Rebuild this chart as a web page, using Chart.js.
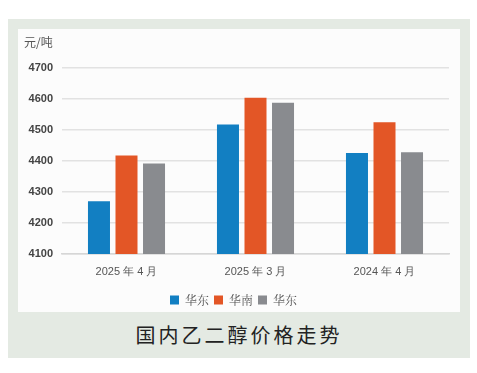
<!DOCTYPE html>
<html><head><meta charset="utf-8">
<script src="https://cdn.jsdelivr.net/npm/chart.js@4.4.0/dist/chart.umd.min.js"></script>
<style>
html,body{margin:0;padding:0;background:#fff;width:477px;height:373px;overflow:hidden;font-family:"Noto Sans CJK SC",sans-serif;}
#outer{position:absolute;left:8px;top:19px;width:462px;height:339px;background:#e4eae3;}
#inner{position:absolute;left:10px;top:10px;width:442px;height:283px;background:#fcfcfc;}
#unit{position:absolute;left:6px;top:4px;font-size:12px;color:#555;}
#title{position:absolute;left:0;width:462px;top:301px;text-align:center;font-size:20px;letter-spacing:3px;color:#222;}
canvas{position:absolute;left:0;top:0;}
</style></head><body>
<div id="outer"><div id="inner"><canvas id="c" width="442" height="287"></canvas><div id="unit">元/吨</div></div>
<div id="title">国内乙二醇价格走势</div></div>
<script>
const categories = ["2025 年 4 月", "2025 年 3 月", "2024 年 4 月"];
const seriesNames = ["华东", "华南", "华东"];
const eastA = [4270, 4518, 4426];
const south = [4418, 4604, 4525];
const eastB = [4392, 4588, 4428];
const yTicks = [4100, 4200, 4300, 4400, 4500, 4600, 4700];
const colors = ["#127fc2", "#e35626", "#898b8f"];

new Chart(document.getElementById('c'), {
  type: 'bar',
  data: {
    labels: categories,
    datasets: [eastA, south, eastB].map((d, i) => ({
      label: seriesNames[i], data: d, backgroundColor: colors[i],
      borderWidth: 0, categoryPercentage: 0.64, barPercentage: 0.8
    }))
  },
  options: {
    responsive: false, animation: false,
    layout: { padding: { left: 0, right: 11, top: 39, bottom: 0 } },
    plugins: {
      tooltip: { enabled: false },
      legend: {
        position: 'bottom',
        labels: { boxWidth: 9, boxHeight: 9, padding: 5, color: '#555',
          font: { size: 12, family: '"Noto Serif CJK SC","Noto Sans CJK SC",serif' } }
      }
    },
    scales: {
      x: {
        grid: { display: false, drawTicks: false },
        border: { color: '#d6d6d6', width: 1.5 },
        ticks: { color: '#555', font: { size: 11 }, padding: 11 },
        afterFit: s => { s.height = 35; }
      },
      y: {
        min: yTicks[0], max: yTicks[yTicks.length - 1],
        afterBuildTicks: s => { s.ticks = yTicks.map(v => ({ value: v })); },
        grid: { color: '#e2e2e2', lineWidth: 1.5, drawTicks: false },
        border: { display: false },
        ticks: { color: '#444', font: { size: 11, weight: 'bold' }, padding: 9,
          callback: v => String(v) },
        afterFit: s => { s.width = 44; }
      }
    }
  }
});
</script>
</body></html>
